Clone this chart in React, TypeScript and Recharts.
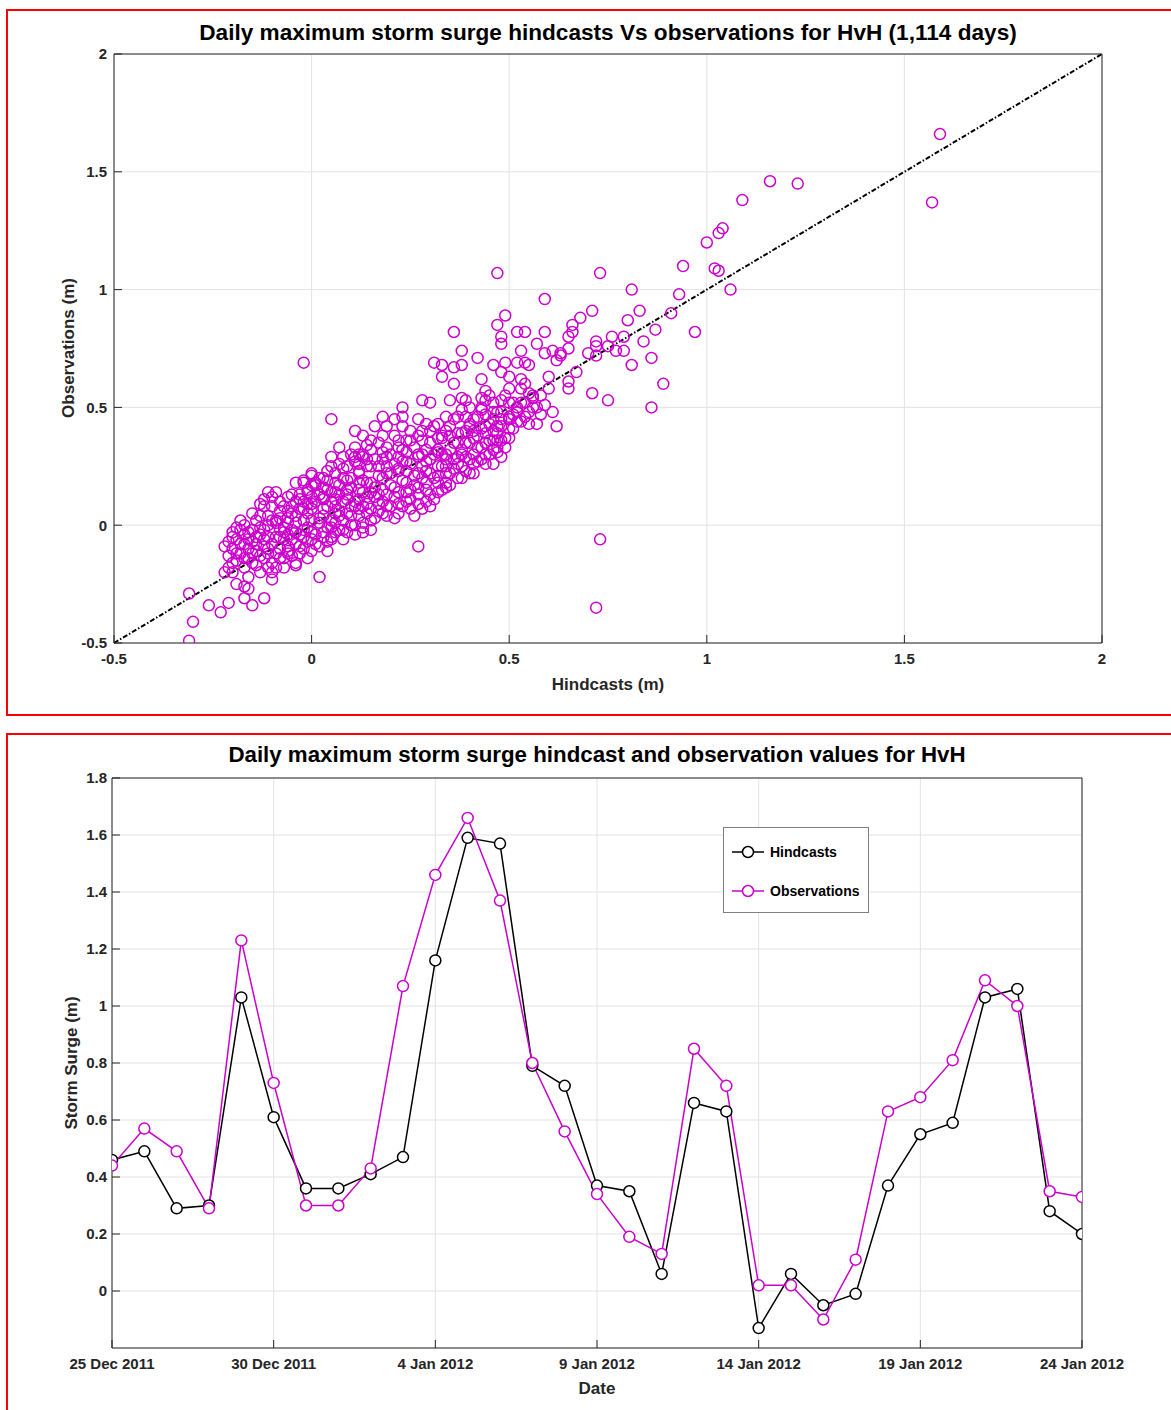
import React from "react";
import {
  ScatterChart,
  Scatter,
  LineChart,
  Line,
  XAxis,
  YAxis,
  CartesianGrid,
  ReferenceLine,
} from "recharts";

// HvH storm surge: hindcasts vs observations

const MAGENTA = "#cc00cc";
const INK = "#262626";
const GRID = "#e3e3e3";
const FONT = "'Liberation Sans', Arial, Helvetica, sans-serif";

// ---- scatter (hindcast m, observation m) ----
const scatterLowTail: [number, number][] = [
  [-0.31, -0.29], [-0.30, -0.41], [-0.31, -0.49], [-0.26, -0.34], [-0.23, -0.37], [-0.21, -0.33],
  [-0.15, -0.34], [-0.12, -0.31], [-0.17, -0.31], [-0.16, -0.27], [-0.19, -0.25], [-0.10, -0.23],
  [-0.17, -0.26], [-0.22, -0.20], [-0.20, -0.20], [-0.21, -0.18], [-0.19, -0.15], [-0.17, -0.14],
  [-0.15, -0.12], [-0.22, -0.09], [-0.20, -0.05], [-0.19, -0.06], [-0.20, -0.03], [-0.18, 0.02],
  [-0.18, -0.02], [-0.17, -0.18], [-0.16, -0.22], [-0.13, -0.20], [-0.11, -0.18], [-0.09, -0.18],
  [-0.07, -0.18], [-0.04, -0.17], [-0.08, -0.14], [-0.11, -0.12], [-0.06, -0.11], [-0.12, -0.09],
  [-0.16, -0.06], [-0.14, -0.05], [-0.13, -0.01], [-0.12, -0.02], [-0.13, 0.09], [-0.11, 0.14],
  [-0.09, 0.14], [-0.11, 0.04], [-0.08, 0.06], [-0.06, 0.01], [-0.12, 0.08], [-0.10, -0.16],
  [-0.04, -0.16], [-0.06, -0.12], [-0.01, -0.14], [-0.19, -0.12], [-0.18, -0.08], [-0.17, -0.04],
  [-0.16, -0.10], [-0.15, -0.02], [-0.15, -0.16], [-0.14, -0.08], [-0.14, 0.02], [-0.13, -0.13],
  [-0.12, -0.06], [-0.11, 0.00], [-0.11, -0.10], [-0.10, 0.08], [-0.09, -0.05], [-0.09, 0.02],
  [-0.08, 0.10], [-0.20, -0.10], [-0.10, -0.20],
];

const scatterCore: [number, number][] = [
  [0.00, 0.22], [0.04, 0.23], [0.07, 0.33], [0.05, 0.29], [0.08, 0.29], [0.10, 0.30], [0.12, 0.26],
  [0.13, 0.29], [-0.04, 0.18], [-0.02, 0.18], [0.01, 0.18], [0.06, 0.18], [0.09, 0.15], [0.12, 0.18],
  [-0.06, 0.12], [-0.03, 0.11], [0.00, 0.12], [0.03, 0.11], [0.05, 0.14], [0.08, 0.10], [0.11, 0.08],
  [0.13, 0.08], [-0.05, 0.08], [-0.02, 0.07], [0.00, 0.07], [0.03, 0.07], [0.06, 0.05], [0.10, 0.04],
  [0.13, 0.01], [-0.09, 0.01], [-0.07, -0.01], [-0.04, 0.01], [-0.01, -0.01], [0.02, 0.01],
  [0.04, -0.01], [0.07, -0.02], [0.11, -0.04], [0.13, -0.03], [-0.08, -0.05], [-0.05, -0.06],
  [-0.02, -0.05], [0.00, -0.06], [0.03, -0.05], [0.05, -0.06], [0.08, -0.06], [-0.06, -0.09],
  [-0.03, -0.09], [0.00, -0.11], [0.04, -0.11], [0.11, 0.40], [0.13, 0.38], [0.16, 0.42],
  [0.18, 0.46], [0.19, 0.42], [0.21, 0.45], [0.23, 0.46], [0.23, 0.50], [0.23, 0.42], [0.27, 0.45],
  [0.28, 0.53], [0.30, 0.52], [0.32, 0.43], [0.34, 0.46], [0.35, 0.53], [0.38, 0.54], [0.38, 0.49],
  [0.33, 0.63], [0.36, 0.60], [0.33, 0.68], [0.31, 0.69], [0.36, 0.67], [0.38, 0.68], [0.43, 0.62],
  [0.44, 0.57], [0.43, 0.54], [0.46, 0.68], [0.43, 0.49], [0.46, 0.45], [0.44, 0.39], [0.47, 0.36],
  [0.46, 0.32], [0.46, 0.26], [0.40, 0.43], [0.41, 0.37], [0.38, 0.39], [0.37, 0.35], [0.35, 0.38],
  [0.33, 0.37], [0.30, 0.40], [0.28, 0.36], [0.25, 0.40], [0.22, 0.36], [0.19, 0.33], [0.18, 0.31],
  [0.15, 0.32], [0.14, 0.34], [0.11, 0.29], [0.00, 0.21], [-0.02, 0.19], [-0.01, 0.14], [0.03, 0.12],
  [0.06, 0.14], [0.09, 0.19], [0.12, 0.23], [0.15, 0.25], [0.18, 0.28], [0.22, 0.29], [0.24, 0.31],
  [0.27, 0.29], [0.29, 0.32], [0.32, 0.31], [0.34, 0.28], [0.37, 0.29], [0.39, 0.23], [0.41, 0.22],
  [0.44, 0.26], [0.34, 0.22], [0.32, 0.25], [0.29, 0.23], [0.27, 0.22], [0.24, 0.23], [0.22, 0.23],
  [0.19, 0.22], [0.17, 0.21], [0.14, 0.18], [0.12, 0.15], [0.09, 0.11], [0.12, 0.11], [0.15, 0.14],
  [0.18, 0.15], [0.21, 0.16], [0.24, 0.18], [0.27, 0.16], [0.29, 0.15], [0.32, 0.18], [0.34, 0.16],
  [0.28, 0.07], [0.30, 0.08], [0.25, 0.11], [0.22, 0.09], [0.19, 0.08], [0.17, 0.09], [0.14, 0.05],
  [0.07, 0.04], [0.05, -0.01], [0.15, -0.02], [0.06, -0.03],
];

const scatterFill: [number, number][] = [
  [-0.08, -0.10], [-0.07, -0.06], [-0.07, -0.03], [-0.06, 0.03], [-0.05, 0.05], [-0.05, -0.02],
  [-0.04, -0.08], [-0.04, 0.10], [-0.03, 0.13], [-0.03, -0.04], [-0.02, 0.02], [-0.02, -0.10],
  [-0.01, 0.15], [-0.01, 0.05], [0.00, -0.03], [0.00, 0.09], [0.01, 0.17], [0.01, -0.08],
  [0.02, 0.03], [0.02, 0.13], [0.03, -0.03], [0.03, 0.20], [0.04, 0.08], [0.04, 0.15], [0.05, 0.02],
  [0.05, -0.05], [0.06, 0.11], [0.06, 0.22], [0.07, 0.06], [0.07, 0.17], [0.08, -0.02], [0.08, 0.24],
  [0.09, 0.05], [0.09, 0.13], [0.10, 0.20], [0.10, 0.00], [0.11, 0.27], [0.11, 0.10], [0.12, 0.04],
  [0.12, 0.22], [0.13, 0.14], [0.13, 0.30], [0.14, 0.09], [0.14, 0.25], [0.15, 0.02], [0.15, 0.18],
  [0.16, 0.12], [0.16, 0.28], [0.17, 0.06], [0.17, 0.35], [0.18, 0.20], [0.18, 0.10], [0.19, 0.25],
  [0.19, 0.04], [0.20, 0.17], [0.20, 0.30], [0.21, 0.12], [0.21, 0.38], [0.22, 0.05], [0.22, 0.24],
  [0.23, 0.19], [0.23, 0.32], [0.24, 0.10], [0.24, 0.27], [0.25, 0.15], [0.25, 0.36], [0.26, 0.21],
  [0.26, 0.04], [0.27, 0.30], [0.27, 0.13], [0.28, 0.25], [0.28, 0.40], [0.29, 0.18], [0.29, 0.10],
  [0.30, 0.28], [0.30, 0.35], [0.31, 0.20], [0.31, 0.42], [0.32, 0.14], [0.32, 0.32], [0.33, 0.25],
  [0.33, 0.38], [0.34, 0.18], [0.34, 0.30], [0.35, 0.22], [0.35, 0.42], [0.36, 0.28], [0.36, 0.35],
  [0.37, 0.20], [0.37, 0.46], [0.38, 0.32], [0.38, 0.25], [0.39, 0.40], [0.39, 0.29], [0.40, 0.35],
  [0.40, 0.22], [0.41, 0.30], [0.41, 0.45], [0.42, 0.38], [0.42, 0.27], [0.43, 0.33], [0.43, 0.50],
  [0.44, 0.42], [0.44, 0.30], [0.45, 0.36], [0.45, 0.55], [0.46, 0.40], [0.47, 0.33], [0.47, 0.48],
  [0.48, 0.42], [0.49, 0.37], [0.49, 0.55], [0.50, 0.46], [0.51, 0.41], [0.52, 0.50], [0.53, 0.44],
  [0.54, 0.60], [0.55, 0.48], [0.56, 0.55],
];

const scatterDense: [number, number][] = [
  [-0.21, -0.13], [-0.21, -0.07], [-0.20, -0.16], [-0.19, -0.01], [-0.18, -0.12], [-0.17, -0.08],
  [-0.17, 0.00], [-0.16, -0.14], [-0.16, -0.03], [-0.15, -0.07], [-0.15, 0.05], [-0.14, -0.11],
  [-0.14, -0.17], [-0.13, -0.04], [-0.13, 0.04], [-0.12, -0.14], [-0.12, 0.11], [-0.11, -0.05],
  [-0.10, -0.08], [-0.10, 0.02], [-0.10, 0.12], [-0.09, -0.12], [-0.08, -0.02], [-0.08, 0.03],
  [-0.07, 0.08], [-0.07, -0.14], [-0.06, -0.04], [-0.06, 0.06], [-0.05, 0.13], [-0.05, -0.13],
  [-0.04, 0.04], [-0.04, -0.03], [-0.03, 0.07], [-0.03, -0.12], [-0.02, 0.10], [-0.02, -0.02],
  [-0.01, -0.07], [-0.01, 0.09], [0.00, 0.17], [0.00, 0.02], [0.01, -0.04], [0.01, 0.10],
  [0.02, 0.20], [0.02, -0.09], [0.03, 0.04], [0.03, 0.16], [0.04, -0.07], [0.04, 0.19],
  [0.05, 0.10], [0.05, 0.25], [0.06, 0.01], [0.06, 0.08], [0.07, 0.13], [0.07, 0.26],
  [0.08, 0.02], [0.08, 0.20], [0.09, -0.03], [0.09, 0.25], [0.10, 0.08], [0.10, 0.16],
  [0.11, 0.33], [0.11, 0.00], [0.12, 0.07], [0.12, 0.30], [0.13, 0.19], [0.13, -0.01],
  [0.14, 0.12], [0.14, 0.28], [0.15, 0.07], [0.15, 0.36], [0.16, 0.16], [0.16, 0.03],
  [0.17, 0.25], [0.17, 0.13], [0.18, 0.05], [0.18, 0.38], [0.19, 0.13], [0.19, 0.29],
  [0.20, 0.08], [0.20, 0.22], [0.21, 0.26], [0.21, 0.03], [0.22, 0.14], [0.22, 0.33],
  [0.23, 0.08], [0.23, 0.27], [0.24, 0.14], [0.24, 0.36], [0.25, 0.07], [0.25, 0.26],
  [0.26, 0.17], [0.26, 0.33], [0.27, 0.09], [0.27, 0.38], [0.28, 0.20], [0.28, 0.30],
  [0.29, 0.27], [0.29, 0.43], [0.30, 0.13], [0.30, 0.22], [0.31, 0.30], [0.31, 0.11],
  [0.32, 0.37], [0.32, 0.21], [0.33, 0.15], [0.33, 0.30], [0.34, 0.40], [0.34, 0.25],
  [0.35, 0.17], [0.35, 0.32], [0.36, 0.24], [0.36, 0.45], [0.37, 0.39], [0.37, 0.26],
  [0.38, 0.30], [0.38, 0.20], [0.39, 0.35], [0.39, 0.46], [0.40, 0.28], [0.40, 0.50],
  [0.41, 0.26], [0.41, 0.40], [0.42, 0.33], [0.42, 0.46], [0.43, 0.28], [0.43, 0.41],
  [0.44, 0.35], [0.44, 0.47], [0.45, 0.30], [0.45, 0.43], [0.46, 0.36], [0.46, 0.52],
  [0.47, 0.39], [0.48, 0.45], [0.49, 0.33], [0.50, 0.41], [0.50, 0.52], [0.51, 0.47],
  [0.52, 0.44], [0.53, 0.52], [0.54, 0.46], [0.55, 0.56], [0.56, 0.50], [0.58, 0.55],
  [0.58, 0.47], [0.60, 0.58],
];

const scatterUpper: [number, number][] = [
  [0.36, 0.82], [0.38, 0.74], [0.49, 0.89], [0.47, 0.85], [0.48, 0.80], [0.48, 0.77], [0.52, 0.82],
  [0.54, 0.82], [0.59, 0.96], [0.59, 0.82], [0.57, 0.77], [0.42, 0.71], [0.53, 0.74], [0.59, 0.73],
  [0.61, 0.74], [0.62, 0.70], [0.49, 0.69], [0.52, 0.69], [0.54, 0.69], [0.55, 0.68], [0.48, 0.65],
  [0.50, 0.63], [0.53, 0.62], [0.50, 0.58], [0.53, 0.58], [0.60, 0.63], [0.44, 0.53], [0.48, 0.53],
  [0.51, 0.52], [0.54, 0.52], [0.56, 0.54], [0.57, 0.50], [0.59, 0.51], [0.61, 0.48], [0.62, 0.42],
  [0.55, 0.43], [0.57, 0.43], [0.50, 0.45], [0.48, 0.48], [0.52, 0.48], [0.46, 0.48], [0.39, 0.53],
  [0.47, 0.42], [0.48, 0.36], [0.50, 0.37], [0.40, 0.42], [0.47, 0.31], [0.48, 0.29], [0.63, 0.73],
];

const scatterHigh: [number, number][] = [
  [1.00, 1.20], [1.03, 1.24], [1.04, 1.26], [0.94, 1.10], [1.02, 1.09], [1.03, 1.08], [1.06, 1.00],
  [0.81, 1.00], [0.73, 1.07], [0.93, 0.98], [0.91, 0.90], [0.83, 0.91], [0.71, 0.91], [0.68, 0.88],
  [0.66, 0.85], [0.66, 0.82], [0.65, 0.80], [0.80, 0.87], [0.87, 0.83], [0.97, 0.82], [0.79, 0.80],
  [0.76, 0.80], [0.84, 0.78], [0.72, 0.78], [0.75, 0.76], [0.72, 0.76], [0.65, 0.75], [0.77, 0.74],
  [0.79, 0.74], [0.70, 0.73], [0.72, 0.72], [0.63, 0.72], [0.86, 0.71], [0.81, 0.68], [0.67, 0.65],
  [0.65, 0.61], [0.65, 0.58], [0.89, 0.60], [0.71, 0.56], [0.75, 0.53], [0.86, 0.50],
  [1.59, 1.66], [1.57, 1.37], [1.16, 1.46], [1.23, 1.45], [1.09, 1.38],
];

const scatterOutliers: [number, number][] = [
  [0.73, -0.06], [0.72, -0.35], [0.27, -0.09], [0.02, -0.22], [-0.02, 0.69], [0.47, 1.07], [0.05, 0.45],
];

const scatterTicks = [-0.5, 0, 0.5, 1, 1.5, 2];

// ---- time series ----
const days = [
  "25 Dec 2011", "26 Dec 2011", "27 Dec 2011", "28 Dec 2011", "29 Dec 2011", "30 Dec 2011",
  "31 Dec 2011", "1 Jan 2012", "2 Jan 2012", "3 Jan 2012", "4 Jan 2012", "5 Jan 2012",
  "6 Jan 2012", "7 Jan 2012", "8 Jan 2012", "9 Jan 2012", "10 Jan 2012", "11 Jan 2012",
  "12 Jan 2012", "13 Jan 2012", "14 Jan 2012", "15 Jan 2012", "16 Jan 2012", "17 Jan 2012",
  "18 Jan 2012", "19 Jan 2012", "20 Jan 2012", "21 Jan 2012", "22 Jan 2012", "23 Jan 2012",
  "24 Jan 2012",
];
const hindcasts = [
  0.46, 0.49, 0.29, 0.30, 1.03, 0.61, 0.36, 0.36, 0.41, 0.47, 1.16, 1.59, 1.57, 0.79, 0.72, 0.37,
  0.35, 0.06, 0.66, 0.63, -0.13, 0.06, -0.05, -0.01, 0.37, 0.55, 0.59, 1.03, 1.06, 0.28, 0.20,
];
const observations = [
  0.44, 0.57, 0.49, 0.29, 1.23, 0.73, 0.30, 0.30, 0.43, 1.07, 1.46, 1.66, 1.37, 0.80, 0.56, 0.34,
  0.19, 0.13, 0.85, 0.72, 0.02, 0.02, -0.10, 0.11, 0.63, 0.68, 0.81, 1.09, 1.00, 0.35, 0.33,
];
const dateTicks = [0, 5, 10, 15, 20, 25, 30];
const surgeTicks = [0, 0.2, 0.4, 0.6, 0.8, 1, 1.2, 1.4, 1.6, 1.8];

const scatterData = [
  ...scatterLowTail,
  ...scatterCore,
  ...scatterFill,
  ...scatterDense,
  ...scatterUpper,
  ...scatterHigh,
  ...scatterOutliers,
].map(([x, y]) => ({ x, y }));

const seriesRows = days.map((label, i) => ({
  day: i,
  label,
  hind: hindcasts[i],
  obs: observations[i],
}));

const tickStyle = { fill: INK, fontSize: 15, fontWeight: 700, fontFamily: FONT };
const lineStyle = { stroke: INK, strokeWidth: 1 };

const ring = (p: any) => (
  <circle cx={p.cx} cy={p.cy} r={5.5} fill="none" stroke={MAGENTA} strokeWidth={1.5} />
);

const text = (
  s: string,
  left: number,
  top: number,
  size: number,
  rotate = false
) => (
  <div
    style={{
      position: "absolute",
      left,
      top,
      transform: `translate(-50%, -50%)${rotate ? " rotate(-90deg)" : ""}`,
      whiteSpace: "nowrap",
      fontFamily: FONT,
      fontWeight: 700,
      fontSize: size,
      lineHeight: 1,
      color: rotate || size < 20 ? INK : "#000",
    }}
  >
    {s}
  </div>
);

function LegendRow({ color, label, top }: { color: string; label: string; top: number }) {
  return (
    <div style={{ position: "absolute", left: 7, top, display: "flex", alignItems: "center" }}>
      <svg width={34} height={14}>
        <line x1={1} y1={7} x2={33} y2={7} stroke={color} strokeWidth={1.5} />
        <circle cx={17} cy={7} r={5.5} fill="#fff" stroke={color} strokeWidth={1.5} />
      </svg>
      <span
        style={{
          marginLeft: 5,
          fontFamily: FONT,
          fontWeight: 700,
          fontSize: 14,
          color: "#000",
        }}
      >
        {label}
      </span>
    </div>
  );
}

export default function App() {
  return (
    <div
      style={{
        position: "absolute",
        left: 0,
        top: 0,
        width: 1171,
        height: 1410,
        overflow: "hidden",
        background: "#fff",
      }}
    >
      <div
        style={{
          position: "absolute",
          left: 6,
          top: 9,
          width: 1180,
          height: 703,
          border: "2px solid #ff0000",
        }}
      />
      <div
        style={{
          position: "absolute",
          left: 6,
          top: 733,
          width: 1180,
          height: 720,
          border: "2px solid #ff0000",
        }}
      />

      <div style={{ position: "absolute", left: 0, top: 0 }}>
        <ScatterChart
          width={1171}
          height={720}
          margin={{ top: 44, right: 59, bottom: 17, left: 54 }}
        >
          <CartesianGrid stroke={GRID} strokeWidth={1} />
          <XAxis
            type="number"
            dataKey="x"
            domain={[-0.5, 2]}
            ticks={scatterTicks}
            allowDataOverflow
            height={60}
            tickSize={-8}
            tickMargin={18}
            axisLine={lineStyle}
            tickLine={lineStyle}
            tick={tickStyle}
          />
          <YAxis
            type="number"
            dataKey="y"
            domain={[-0.5, 2]}
            ticks={scatterTicks}
            allowDataOverflow
            width={60}
            tickSize={-8}
            tickMargin={15}
            axisLine={lineStyle}
            tickLine={lineStyle}
            tick={tickStyle}
          />
          <XAxis
            xAxisId="top"
            orientation="top"
            type="number"
            domain={[-0.5, 2]}
            ticks={scatterTicks}
            allowDataOverflow
            height={10}
            tickSize={-8}
            axisLine={lineStyle}
            tickLine={lineStyle}
            tick={false}
          />
          <YAxis
            yAxisId="right"
            orientation="right"
            type="number"
            domain={[-0.5, 2]}
            ticks={scatterTicks}
            allowDataOverflow
            width={10}
            tickSize={-8}
            axisLine={lineStyle}
            tickLine={lineStyle}
            tick={false}
          />
          <Scatter data={scatterData} shape={ring} isAnimationActive={false} />
          <ReferenceLine
            segment={[
              { x: -0.5, y: -0.5 },
              { x: 2, y: 2 },
            ]}
            stroke="#000"
            strokeWidth={2}
            strokeDasharray="5 2 1.5 2"
            ifOverflow="visible"
          />
        </ScatterChart>
      </div>

      {text("Daily maximum storm surge hindcasts Vs observations for HvH (1,114 days)", 608, 33, 22.6)}
      {text("Hindcasts (m)", 608, 684, 17)}
      {text("Observations (m)", 68, 348, 17, true)}

      <div style={{ position: "absolute", left: 0, top: 720 }}>
        <LineChart
          width={1171}
          height={690}
          data={seriesRows}
          margin={{ top: 48, right: 79, bottom: 12, left: 52 }}
        >
          <CartesianGrid stroke={GRID} strokeWidth={1} />
          <XAxis
            type="number"
            dataKey="day"
            domain={[0, 30]}
            ticks={dateTicks}
            allowDataOverflow
            height={50}
            tickSize={-8}
            tickMargin={18}
            axisLine={lineStyle}
            tickLine={lineStyle}
            tick={tickStyle}
            tickFormatter={(v: number) => days[v]}
          />
          <YAxis
            type="number"
            domain={[-0.2, 1.8]}
            ticks={surgeTicks}
            allowDataOverflow
            width={60}
            tickSize={-8}
            tickMargin={13}
            axisLine={lineStyle}
            tickLine={lineStyle}
            tick={tickStyle}
          />
          <XAxis
            xAxisId="top"
            orientation="top"
            type="number"
            domain={[0, 30]}
            ticks={dateTicks}
            allowDataOverflow
            height={10}
            tickSize={-8}
            axisLine={lineStyle}
            tickLine={lineStyle}
            tick={false}
          />
          <YAxis
            yAxisId="right"
            orientation="right"
            type="number"
            domain={[-0.2, 1.8]}
            ticks={surgeTicks}
            allowDataOverflow
            width={10}
            tickSize={-8}
            axisLine={lineStyle}
            tickLine={lineStyle}
            tick={false}
          />
          <Line
            dataKey="hind"
            stroke="#000"
            strokeWidth={1.5}
            dot={{ r: 5.5, fill: "#fff", stroke: "#000", strokeWidth: 1.5 }}
            isAnimationActive={false}
          />
          <Line
            dataKey="obs"
            stroke={MAGENTA}
            strokeWidth={1.5}
            dot={{ r: 5.5, fill: "#fff", stroke: MAGENTA, strokeWidth: 1.5 }}
            isAnimationActive={false}
          />
        </LineChart>
      </div>

      {text("Daily maximum storm surge hindcast and observation values for HvH", 597, 755, 22.3)}
      {text("Date", 597, 1388, 17)}
      {text("Storm Surge (m)", 71, 1063, 17, true)}

      <div
        style={{
          position: "absolute",
          left: 723,
          top: 827,
          width: 144,
          height: 84,
          border: "1px solid #808080",
          background: "#fff",
        }}
      >
        <LegendRow color="#000" label="Hindcasts" top={16} />
        <LegendRow color={MAGENTA} label="Observations" top={55} />
      </div>
    </div>
  );
}
